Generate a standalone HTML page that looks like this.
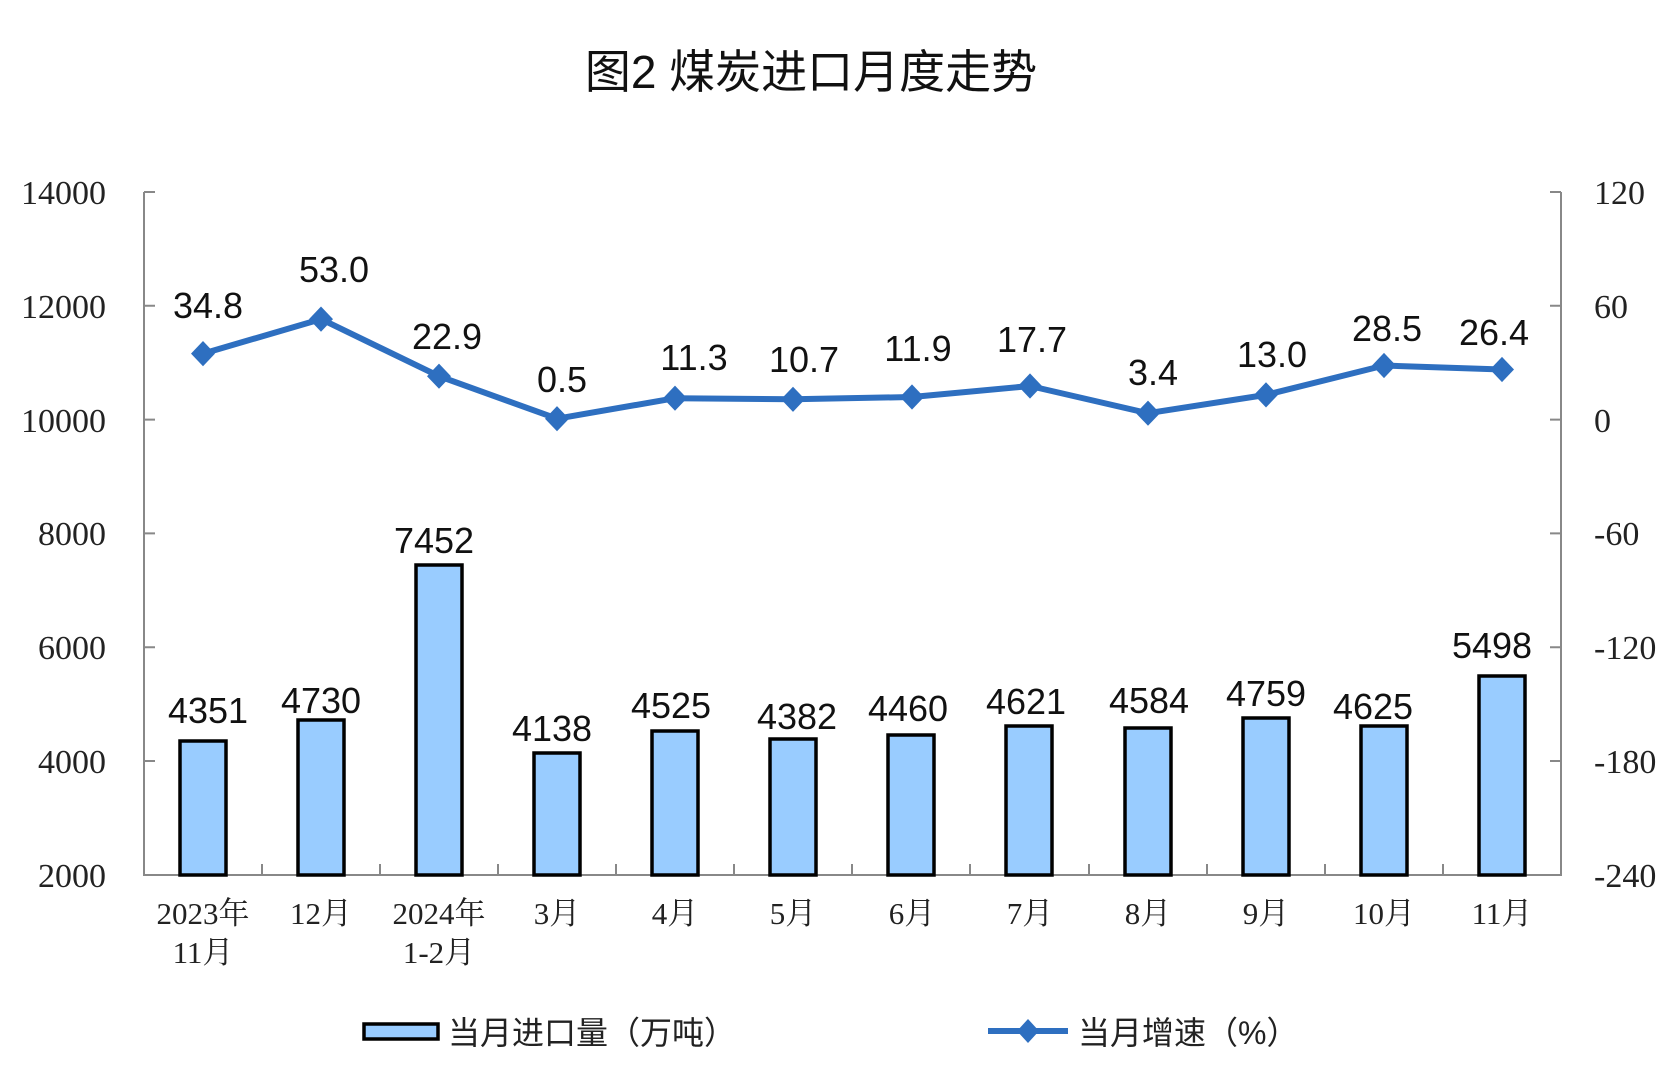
<!DOCTYPE html>
<html><head><meta charset="utf-8"><style>
html,body{margin:0;padding:0;background:#fff;}
svg{display:block;}
.t{font-family:"Liberation Serif","Noto Serif CJK SC",serif;font-size:34px;fill:#222;}
.d{font-family:"Liberation Sans","Noto Sans CJK SC",sans-serif;font-size:36px;fill:#111;text-anchor:middle;}
.x{font-family:"Liberation Serif","Noto Serif CJK SC",serif;font-size:31px;fill:#222;text-anchor:middle;}
.lg{font-family:"Liberation Sans","Noto Sans CJK SC",sans-serif;font-size:32px;fill:#222;}
</style></head><body>
<svg width="1674" height="1083" viewBox="0 0 1674 1083" xmlns="http://www.w3.org/2000/svg">
<text x="811" y="88" text-anchor="middle" style="font-family:'Liberation Sans','Noto Sans CJK SC',sans-serif;font-size:46px;fill:#111;">图2  煤炭进口月度走势</text>
<g stroke="#888" stroke-width="2" fill="none">
<path d="M144 192V875H1561V192"/>
<path d="M144 192h11M144 305.8h11M144 419.6h11M144 533.4h11M144 647.2h11M144 761h11"/>
<path d="M1561 192h-11M1561 305.8h-11M1561 419.6h-11M1561 533.4h-11M1561 647.2h-11M1561 761h-11"/>
<path d="M262 875v-11M380 875v-11M498 875v-11M616 875v-11M734 875v-11M852 875v-11M970 875v-11M1089 875v-11M1207 875v-11M1325 875v-11M1443 875v-11"/>
</g>
<g class="t" text-anchor="end">
<text x="106" y="204">14000</text><text x="106" y="318">12000</text><text x="106" y="432">10000</text>
<text x="106" y="545">8000</text><text x="106" y="659">6000</text><text x="106" y="773">4000</text><text x="106" y="887">2000</text>
</g>
<g class="t">
<text x="1594" y="204">120</text><text x="1594" y="318">60</text><text x="1594" y="432">0</text>
<text x="1594" y="545">-60</text><text x="1594" y="659">-120</text><text x="1594" y="773">-180</text><text x="1594" y="887">-240</text>
</g>
<g fill="#99ccff" stroke="#000" stroke-width="3.5">
<rect x="180" y="741" width="46" height="134"/>
<rect x="298" y="720" width="46" height="155"/>
<rect x="416" y="565" width="46" height="310"/>
<rect x="534" y="753" width="46" height="122"/>
<rect x="652" y="731" width="46" height="144"/>
<rect x="770" y="739" width="46" height="136"/>
<rect x="888" y="735" width="46" height="140"/>
<rect x="1006" y="726" width="46" height="149"/>
<rect x="1125" y="728" width="46" height="147"/>
<rect x="1243" y="718" width="46" height="157"/>
<rect x="1361" y="726" width="46" height="149"/>
<rect x="1479" y="676" width="46" height="199"/>
</g>
<g class="d">
<text x="208" y="723">4351</text><text x="321" y="713">4730</text><text x="434" y="553">7452</text>
<text x="552" y="741">4138</text><text x="671" y="718">4525</text><text x="797" y="729">4382</text>
<text x="908" y="721">4460</text><text x="1026" y="714">4621</text><text x="1149" y="713">4584</text>
<text x="1266" y="706">4759</text><text x="1373" y="719">4625</text><text x="1492" y="658">5498</text>
</g>
<polyline fill="none" stroke="#2e6fc0" stroke-width="6" stroke-linejoin="round" points="203,353.6 321,319.1 439,376.2 557,418.7 675,398.2 793,399.3 912,397 1030,386 1148,413.2 1266,394.9 1384,365.5 1502,369.5"/>
<g fill="#2e6fc0">
<path d="M203 341l12 12.6-12 12.6-12-12.6z"/><path d="M321 306.5l12 12.6-12 12.6-12-12.6z"/>
<path d="M439 363.6l12 12.6-12 12.6-12-12.6z"/><path d="M557 406.1l12 12.6-12 12.6-12-12.6z"/>
<path d="M675 385.6l12 12.6-12 12.6-12-12.6z"/><path d="M793 386.7l12 12.6-12 12.6-12-12.6z"/>
<path d="M912 384.4l12 12.6-12 12.6-12-12.6z"/><path d="M1030 373.4l12 12.6-12 12.6-12-12.6z"/>
<path d="M1148 400.6l12 12.6-12 12.6-12-12.6z"/><path d="M1266 382.3l12 12.6-12 12.6-12-12.6z"/>
<path d="M1384 352.9l12 12.6-12 12.6-12-12.6z"/><path d="M1502 356.9l12 12.6-12 12.6-12-12.6z"/>
</g>
<g class="d">
<text x="208" y="318">34.8</text><text x="334" y="282">53.0</text><text x="447" y="349">22.9</text>
<text x="562" y="392">0.5</text><text x="694" y="370">11.3</text><text x="804" y="372">10.7</text>
<text x="918" y="361">11.9</text><text x="1032" y="352">17.7</text><text x="1153" y="385">3.4</text>
<text x="1272" y="367">13.0</text><text x="1387" y="341">28.5</text><text x="1494" y="345">26.4</text>
</g>
<g class="x">
<text x="203" y="924">2023年</text><text x="203" y="963">11月</text>
<text x="321" y="924">12月</text>
<text x="439" y="924">2024年</text><text x="439" y="963">1-2月</text>
<text x="557" y="924">3月</text><text x="675" y="924">4月</text><text x="793" y="924">5月</text>
<text x="912" y="924">6月</text><text x="1030" y="924">7月</text><text x="1148" y="924">8月</text>
<text x="1266" y="924">9月</text><text x="1384" y="924">10月</text><text x="1502" y="924">11月</text>
</g>
<rect x="364" y="1024" width="74" height="15" fill="#99ccff" stroke="#000" stroke-width="3.5"/>
<text class="lg" x="448" y="1044">当月进口量（万吨）</text>
<path d="M988 1031h80" stroke="#2e6fc0" stroke-width="6"/>
<path d="M1028 1019l11 12-11 12-11-12z" fill="#2e6fc0"/>
<text class="lg" x="1078" y="1044">当月增速（%）</text>
</svg>
</body></html>
